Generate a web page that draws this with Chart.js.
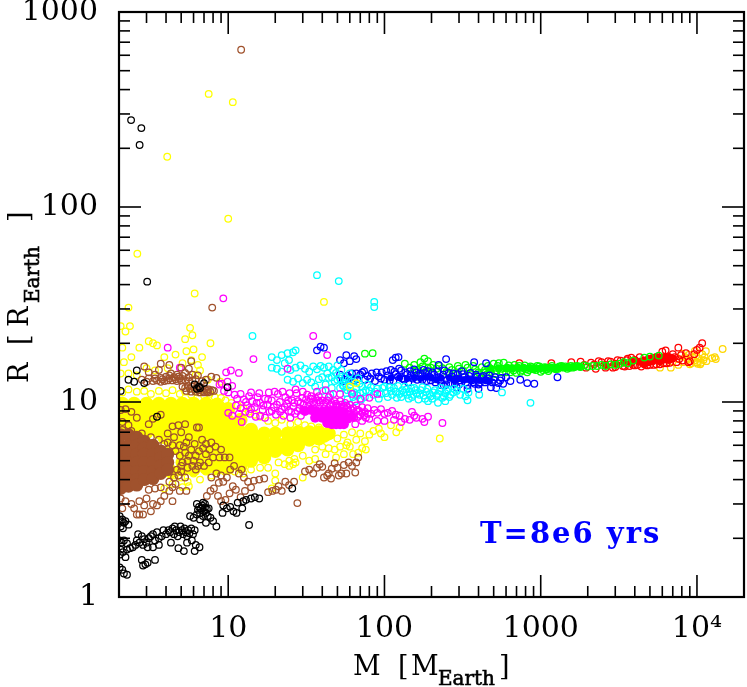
<!DOCTYPE html>
<html>
<head>
<meta charset="utf-8">
<title>R vs M</title>
<script src="https://cdn.jsdelivr.net/npm/chart.js@4/dist/chart.umd.js"></script>
<style>
body { margin: 0; background: #fff; }
canvas { display: block; }
</style>
</head>
<body>
<canvas id="scatterChart" width="747" height="687"></canvas>
<script>
// tick values and labels
const xMajorTicks = [10, 100, 1000, 10000];
const xTickLabels = ['10', '100', '1000', '10⁴'];
const xMinorTicks = [2,3,4,5,6,7,8,9,20,30,40,50,60,70,80,90,200,300,400,500,600,700,800,900,2000,3000,4000,5000,6000,7000,8000,9000];
const yMajorTicks = [1, 10, 100, 1000];
const yTickLabels = ['1', '10', '100', '1000'];
const yMinorTicks = [2,3,4,5,6,7,8,9,20,30,40,50,60,70,80,90,200,300,400,500,600,700,800,900];

// [M, R], one list per colour
const blackPoints = [[2.39,279],[2.78,254],[2.71,208],[3.03,41.4],[2.3,13],[2.6,14.5],[2.9,12.5],[2.5,12.7],[2.05,11.4],[6.1,12.3],[6.6,11.8],[7,12.5],[6.5,12],[6.3,11.7],[9.9,11.9],[3.5,8.4],[13.6,2.34],[25.7,3.6],
[2.02,2.6],[2.05,2.45],[2.1,2.5],[2.15,2.4],[2.2,2.45],[2.3,2.35],[2.05,2.3],[2.12,2.25],[2.02,1.95],[2.08,1.9],[2.15,1.95],[2.25,1.88],[2.05,1.75],[2.12,1.7],[2.25,1.75],[2.35,1.78],[2.45,1.8],[2.03,1.65],[2.2,1.6],[2.1,1.38],[2.15,1.32],[2.25,1.3],[2.02,1.42],[2.55,1.85],[2.6,1.95],[2.7,1.9],[2.8,2.05],[2.9,1.98],[3,1.9],[3.1,2],[2.65,2.1],[2.85,1.85],[3.05,1.8],[3.2,2.05],[3.3,2.1],[3.4,1.95],[3.5,2.15],[3.6,2],[3.75,2.05],[3.85,2.2],[3.3,1.8],[3.6,1.85],[2.85,1.45],[2.95,1.47],[3.05,1.5],[2.8,1.55],[3.4,1.55],
[4,2.1],[4.15,2.2],[4.25,2.15],[4.4,2.25],[4.5,2.1],[4.55,2.3],[4.65,2.2],[4.75,2.05],[4.85,2.15],[4.95,2.3],[5.05,2.2],[5.15,2.1],[5.25,2.25],[5.35,2.15],[5.45,2.05],[5.55,2.2],[5.65,2.12],[5.8,2.25],[5.95,2.1],[6.1,2.2],[4.3,1.9],[4.8,1.78],[5.2,1.72],[5.45,1.9],[5.85,1.95],[6.2,1.85],[6.55,1.8],[6.1,1.72],
[6.3,2.65],[6.4,2.8],[6.5,2.9],[6.6,2.7],[6.7,2.85],[6.8,2.95],[6.9,2.6],[7,2.75],[7.1,2.88],[7.2,2.7],[7.3,2.82],[7.4,2.6],[7.1,3],[6.9,3.05],[7.5,2.85],[6.3,3],[7.7,2.55],[6.6,2.5],[7.2,2.4],[8,2.45],[8.4,2.3],[6,2.55],[5.7,2.6],
[9.3,2.95],[9.8,2.85],[10.3,2.9],[10.8,2.75],[11.3,2.7],[12.3,2.85],[12.5,3.1],[13,3.15],[14,3.2],[14.8,3.25],[15.8,3.2],[11.5,3.05],[9.2,2.7]];

const brownPoints = [[12.1,640],[7.9,30.5],[2.9,15.2],[3.1,14.2],[3.4,13.8],[3.1,13.2],[3.4,13.2],[3.7,13.3],[4,13.5],[4.3,14],[4.5,13.4],[4.7,13.8],[4.9,13.2],[5.1,13.6],[5.3,14.1],[5.6,13.4],[5.9,13.8],[4.1,12.9],[4.4,12.9],[4.7,12.8],[5,12.9],[5.3,12.9],[5.6,12.8],[5.9,12.9],[3.7,12.7],[6.2,13.1],[6.4,13.7],[5.6,14.8],[5,15],[4.2,15.5],[3.6,14.6],[3.7,15.7],[5.8,16.2],[2.8,13],[3,12.7],[3.3,12.8],[3.5,12.9],[3.8,13.1],[4.2,13.2],[4.6,13.1],[4.8,13.5],[4.2,13.7],[3.9,12.8],
[5.1,12],[5.3,11.8],[5.5,12.1],[5.7,11.7],[5.9,12],[6.1,11.6],[6.3,11.9],[6.5,11.5],[6.7,11.8],[6.9,11.4],[7.1,11.7],[7.3,11.4],[7.5,11.6],[7.7,11.3],[7.9,11.5],[5.4,11.4],[5.8,11.3],[6.2,11.3],[6.6,11.2],[7,11.2],[7.4,11.2],[8.1,11.4],[6.8,12.8],[7.2,13],[7.8,13.5],[8.4,13.3],
[2.05,9.1],[2.2,9.2],[2.4,8.9],[2.6,8.3],[2.1,7.9],[2.3,7.6],[3.1,7.7],[3.3,8.2],[3.7,8.6],[4.4,7.5],[4.8,7.6],[5.3,7.7],[6.3,7.4],[6.5,7.4],[5,7],[4.1,6.9],[4.5,6.6],[5.6,6.6],[6.8,6.4],[5.4,6.2],[6.1,6.1],[7.2,6.1],[7.8,6.2],[6.9,5.8],[7.6,5.7],[8.3,5.9],[9,5.7],[7.2,5.4],[8,5.2],[8.8,5.2],[9.5,5.2],[10.2,5.2],[6.5,5.6],[5.2,5.9],[5.6,5.3],[6,5],[6.6,4.9],[5,4.7],[5.5,4.6],[6.2,4.5],[7,4.7],[7.5,4.9],[4.8,4.2],[5.3,4.1],[4.6,3.8],[4.9,3.5],[5.4,3.5],[3.9,3.3],[4.2,3.5],[4.4,3.1],[3.7,3.1],
[2.05,3.2],[2.2,3.1],[2.4,3],[2.7,3.1],[3,3.2],[3.3,3],[3.5,2.95],[2.9,2.95],[2.6,2.65],[2.7,2.65],[2.85,2.65],[2.1,2.85],[2.5,2.85],[3.2,2.75],
[7.3,3.3],[7.7,3.5],[8.1,3.6],[8.6,3.3],[9,3.1],[9.6,3.15],[10.2,3.4],[10.7,3.7],[11.2,3.55],[12,3.25],[12.8,3.5],[13.4,3.9],[14,3.65],[14.6,3.95],[8.7,3.85],[9.3,3.9],[9.8,4.1],[9,4.2],[8.4,4.3],[10.3,4.5],[10.9,4.7],[11.7,4.3],[12.2,4.5],[7.8,4.1],[12.6,4.1],[15.8,4],[17,4.05],[18,3.45],[19.2,3.5],[20.2,3.55],[21,3.7],[23.2,3.9],[24.5,3.75],[26.4,3.9],[27.7,3.03],[22,3.5],
[31,4.4],[33,4.5],[35,4.3],[37,4.6],[38.5,4.8],[40,4.65],[41,4.1],[43,4.2],[44,4.3],[45.5,4.05],[46,4.55],[48,4.85],[50,4.6],[51,4.2],[53,4.3],[55,4.75],[57,4.3],[59,4.9],[62,4.7],[66,4.9],[68,5.2],[65,4.35],
[4.6,5.6],[4.9,6],[4.9,5.3],[5.1,4.9],[5.3,5.5],[5.5,5],[5.8,5.7],[5.9,4.7],[6.2,5.3],[6.4,4.7],[4.7,4.5],[5,4.4],[4.5,4.1],[4.2,3.9],[4.4,3.65],[3.7,3.65],[3.4,3.6],[3.1,3.55],[4.1,6.2],[4.4,6],[3.9,6.1],[3.6,6.4],[3.2,6.6],[2.8,6.9],[2.4,7.1],[2.1,7.2]];
const brownCore = [[2.05,6.8],[2.05,6],[2.05,5.4],[2.05,4.9],[2.05,4.4],[2.05,4],[2.05,3.6],[2.3,6.8],[2.3,6],[2.3,5.4],[2.3,4.9],[2.3,4.4],[2.3,4],[2.3,3.7],[2.6,6.6],[2.6,6],[2.6,5.4],[2.6,4.9],[2.6,4.4],[2.6,4],[2.6,3.75],[2.9,6.3],[2.9,5.8],[2.9,5.4],[2.9,4.9],[2.9,4.4],[2.9,4],[3.3,6],[3.3,5.4],[3.3,4.9],[3.3,4.4],[3.3,4.05],[3.7,5.6],[3.7,5.2],[3.7,4.7],[3.7,4.3],[4.1,5.4],[4.1,4.9],[4.1,4.5]];

const yellowPoints = [[7.5,380],[10.7,345],[4.07,181],[10,87],[2.62,57.6],[6.1,36],[2.3,30.5],[41,32.6],[2.05,24.5],[2.2,23],[2.35,24.5],[2.1,19],[2.4,17],[3.1,20.5],[3.3,20],[3.5,19.5],[3.9,17],[2.7,19],[2.15,16],[2.05,14],[2.6,13.7],[4.6,17.5],[5.3,21],[5.7,24],[5.9,22],[6,18.6],[5.8,16.4],[6.4,15.5],[6.8,17],[7.7,20],[6.6,14.5],[5.4,18.2],[5.1,15.8],[3,14.9],[3.4,14.5],[2.3,14],[4.1,14.9],[6.2,13.8],[8.9,12.7],[7.4,13],[60,12],[66,12.5],
[2.1,11.2],[2.3,11.6],[2.6,11.3],[2.9,11.4],[3.2,11],[3.6,11.4],[4,11.1],[4.4,11.5],[4.9,11],[5.3,11.3],[5.8,10.9],[6.4,11.2],[7,10.8],[7.6,11],[8.2,10.6],[9,10.5],[9.6,10.2],[10.5,9.9],[11.5,9.6],[12.5,9.3],[13.5,8.9],[14.8,8.6],[16,8.4],[18,8],[20,7.8],[22,8.1],[25,7.7],[28,7.9],[31,7.6],[34,7.5],[38,7.4],
[50,6.5],[55,6.8],[58,6.2],[62,7],[66,6.4],[70,6.9],[75,6.3],[80,6.8],[85,7.1],[60,5.9],[52,5.9],[48,5.7],[44,5.8],[40,5.9],[36,5.7],[72,5.8],[68,5.5],[63,5.4],[55,5.4],[49,5.2],[76,5.7],[57,6],[110,7.6],[125,7.4],[95,6.9],[119,7],[100,6.6],[92,7.3],[226,6.5],[42,5.4],[36,5.1],[30,5.3],[33,5],[27,4.9],[24.6,5],[24.6,4.7],[21,4.9],[20,4.3],[26.5,5.1],
[4.5,4.2],[5,4.1],[5.5,3.9],[6,4.3],[6.6,4],[7.2,4.4],[7.8,4.2],[8.5,4.4],[9.5,4.4],[11,4.4],[12.5,4.3],[14,4.5],[16,4.6],[18,4.6],[23,4.8],[26,4.8],[5.1,3.66],[5.6,3.7],[3.9,3.6],[4.4,3.8],[30,4.1],[20,3.95],[19,3.6]];
const yellowCore = [[2.1,9.8],[2.1,9],[2.1,8],[2.1,7],[2.5,9.8],[2.5,9],[2.5,8],[2.5,7],[3,9.8],[3,9],[3,8],[3,7],[3.6,9.8],[3.6,9],[3.6,8],[3.6,7],[4.3,9.8],[4.3,9],[4.3,8],[4.3,7],[4.3,6.2],[4.3,4.4],[5.1,9.8],[5.1,9],[5.1,8],[5.1,7],[5.1,6.2],[5.1,5.5],[5.1,4.9],[5.1,4.5],[6,9.8],[6,9],[6,8],[6,7],[6,6.2],[6,5.5],[6,4.9],[6,4.5],[7.2,9.8],[7.2,9],[7.2,8],[7.2,7],[7.2,6.2],[7.2,5.5],[7.2,4.9],[7.2,4.6],[8.5,9.7],[8.5,9],[8.5,8],[8.5,7],[8.5,6.2],[8.5,5.5],[8.5,4.9],[8.5,4.6],[10,9.2],[10,8],[10,7],[10,6.2],[10,5.5],[10,4.9],[10,4.6],[12,8.1],[12,7],[12,6.2],[12,5.5],[12,4.9],[12,4.7],[14,7.2],[14,6.2],[14,5.5],[14,5],[17,6.9],[17,6.2],[17,5.6],[17,5.2],[20,6.9],[20,6.2],[20,5.6],[24,6.9],[24,6.3],[24,5.7],[28,7],[28,6.5],[28,6],[33,7],[33,6.4],[38,7],[38,6.5],[44,6.9],
[2.3,9.4],[2.8,9.4],[3.3,9.4],[3.9,9.4],[4.7,9.4],[5.5,9.4],[6.6,9.4],[7.8,9.4],[2.3,8.5],[2.8,8.5],[3.3,8.5],[3.9,8.5],[4.7,8.5],[5.5,8.5],[6.6,8.5],[7.8,8.5],[9.2,8.5],[2.3,7.5],[2.8,7.5],[3.3,7.5],[3.9,7.5],[4.7,7.5],[5.5,7.5],[6.6,7.5],[7.8,7.5],[9.2,7.5],[11,7.5],[3.9,6.6],[4.7,6.6],[5.5,6.6],[6.6,6.6],[7.8,6.6],[9.2,6.6],[11,6.6],[13,6.6],[15.5,6.6],[4.7,5.8],[5.5,5.8],[6.6,5.8],[7.8,5.8],[9.2,5.8],[11,5.8],[13,5.8],[15.5,5.8],[18.5,5.9],[22,5.9],[26,6.2],[30,6.7],[35,6.7],[41,6.7],[5.5,5.2],[6.6,5.2],[7.8,5.2],[9.2,5.2],[11,5.2],[13,5.2],[15.5,5.4]];

const magentaPoints = [[9.3,34],[4.1,19],[4.9,15],[14.5,16.6],[9.7,14.2],[10.4,14.5],[11.7,14.1],[8.8,12.3],[9.4,11.4],[10,11.2],[10.6,12.1],[9.9,12.7],[9.1,12.4],[35,21.8],[24,14.8],[43,17.4],
[11,10.9],[11.4,10.4],[12,11],[12.6,10.3],[13.2,9.6],[13.6,10.7],[14.2,10.1],[14.8,9.4],[15.4,10.6],[16,9.9],[16.6,9.1],[17.2,10.4],[17.8,9.7],[18.4,8.9],[19,10.2],[19.6,9.4],[20.2,8.6],[20.8,11],[21.4,10],[22,9.2],[22.6,8.5],[23.2,10.6],[23.8,9.8],[24.4,9],[25,8.3],[25.6,10.2],[26.2,9.5],[26.8,8.7],[27.4,11.1],[28,10.1],[28.6,9.3],[29.2,8.5],[29.8,10.5],[30.4,9.7],[31,9],[12,9.3],[11.2,9.6],[11.7,8.7],[12.9,8.9],[13.8,8.7],[15,8.4],[16,8.5],[17.2,8.3],[12.2,7.9],[10.6,8.5],[10,8.8],[14,11.2],[15.8,11.1],[18.2,11.2],[19.8,11.3],[22.3,11.3],[24.7,11.1],[27,11.6],[30,11.3],[32,10.9],[33,10],[34,10.7],[35,10],[36,10.5],[37,9.9],[38,10.7],[40,10.2],[42,10],[44,10.6],[46,9.9],[48,10.1],[50,9.6],[52,10.1],[54,9.5],[56,9.9],[58,9.4],[60,9.7],[63,9.3],[66,9.6],[69,9],[72,9.4],[75,8.9],[78,9.3],[82,8.7],[86,9.1],[90,8.8],[95,9.2],[100,8.7],[105,8.8],[112,9],[118,8.6],[125,8.5],[135,8.2],[145,8.1],[150,8.9],[155,8.5],[160,8.3],[175,8.2],[180,7.9],[190,8.4],[235,7.8],[47,11],[62,11],[70,10.4],[80,10.5],[90,11],[42,11.5],[37,11.3],[52,11],[65,7.7],[72,8],[80,8.2],[90,8],[100,8],[115,8.1],[128,7.9],
[13,10],[14,9.2],[15.2,9.9],[16.8,9.6],[18,10.3],[19,9],[20.5,9.7],[21.5,8.9],[23,9.4],[24.2,10.2],[25.3,8.9],[26.5,9.9],[27.8,9],[29,9.9],[30.2,9.1],[31.5,10.3],[32.5,9.5],[33.7,10.4],[35.5,9.8],[37.5,10.2],[39,9.9],[41,9.8],[43,10.2],[45,9.7],[47,9.6],[49,9.8],[51,9.4],[53,9.7],[55,9.4],[57,9.6],[59,9],[61,9.2],[64,8.8],[67,9.1],[70,8.6],[74,8.5],[78,8.7],[60,8.6],[64,8.3],[68,8.4],[72,8.8],[76,8.3]];
const magentaCore = [[31,9],[34,9.1],[37,8.9],[40,8.9],[43,9],[46,9],[49,8.9],[52,8.9],[55,8.8],[36,8.3],[40,8.3],[43,8.3],[46,8.3],[49,8.3],[52,8.3],[55,8.2],[58,8.2],[62,8.4],[43,7.8],[46,7.7],[49,7.7],[52,7.7],[55,7.7]];

const cyanPoints = [[37,44.7],[51,41.7],[86,32.6],[86,30.7],[14.3,21.8],[58,21.8],[860,9.9],[340,10.2],[220,9.9],[245,10.1],[404,10.9],[565,11.2],[330,10.7],[345,11.2],
[19,17],[20.5,16.4],[22,17.4],[24,17.8],[24.5,16.4],[26,18],[27,18.4],[19,15],[20.5,14.8],[22,14.3],[23,15.8],[25,14.6],[27,15],[29,15.4],[31,14.8],[33,14.3],[35,15.2],[37,14.7],[39,15.3],[41,15],[44,15.2],[47,14.6],[50,15.4],[53,14.6],[56,13.4],[60,14],[24,13],[26,12.7],[28,13.2],[30,12.5],[32,13],[34,12.6],[36,12],[38,13.1],[40,13.4],[42,12.3],[44,13.3],[46,11.8],[48,12.8],[50,13],[52,11.8],[54,12.2],[56,12.5],[58,11.5],[60,12],[62,12.7],[64,11.2],[66,11.8],[68,13.2],[70,11.1],[72,12],[75,10.6],[78,12.3],[80,11.4],[85,10.9],[90,11.7],[95,11],[100,12],[105,10.6],[110,11.4],[115,11.8],[120,10.5],[125,11],[130,11.5],[135,12],[140,10.9],[145,11.3],[150,10.6],[155,11.8],[160,11.1],[165,10.3],[170,11.5],[178,10.8],[185,11.3],[190,10.1],[198,10.7],[205,11.2],[215,10.8],[225,11.4],[235,10.5],[245,11.1],[255,11.6],[265,10.9],[275,11.2],[290,11.4],[305,10.9],[320,11.7],[40,11.4],[58,10.3],[65,10.1],[45,10.9],
[43,14],[46,13.4],[49,14.1],[52,13.2],[55,12],[57,11.1],[59,13],[61,11.4],[63,10.6],[67,10.8],[69,12.4],[71,10.3],[73,11.2],[76,11.5],[82,11.9],[87,11.3],[92,10.4],[97,11.8],[102,11.1],[108,11.9],[112,10.9],[118,11.3],[122,12.1],[128,10.6],[133,11.2],[138,11.6],[143,10.4],[148,11.8],[153,10.9],[158,11.5],[168,10.9],[175,11.9],[182,10.4],[188,11.7],[195,11],[202,10.4],[210,11.5],[220,11],[230,11.8],[240,10.7],[250,11.4],[260,10.6],[280,11.7]];

const bluePoints = [[52,16.4],[57,17.4],[60,16.2],[64,17.2],[66,16.6],[55,15.8],[113,16.4],[118,16.9],[123,17],[248,16.6],[222,15.5],[375,16],[447,15.8],[1280,13.4],[910,12.4],[820,12.5],[740,13],[39,19.2],[37,18.4],[41,19],[52,13.8],[54,12.8],[56,13],[58,13.6],[62,14],[64,12.9],[67,13.1],[70,13.8],[72,14.2],[75,13],[78,13.6],[83,14],[87,12.8],[92,13.5],[96,14.2],[100,13],[105,13.7],[110,14.6],[114,12.8],[118,13.9],[124,14.8],[130,13.2],[136,14.2],[142,12.6],[148,13.7],[155,14.7],[162,13],[170,14],[178,14.6],[186,12.8],[194,13.5],[203,14.2],[212,12.6],[222,13.4],[232,12.2],[242,14.5],[252,13],[264,12.5],[276,14],[288,13.2],[300,12.3],[312,14.4],[325,13.4],[340,12.2],[355,14.1],[370,12.6],[385,13.8],[400,12.3],[420,13.4],[440,12.6],[460,13.2],[480,11.9],[500,13],[520,11.8],[550,12.9],[575,12.4],[600,13.4],[640,12.8],[340,11.7],[400,11.7],[290,11.9],[240,12.1],
[60,13.3],[66,14],[74,14.4],[81,13.2],[89,14.2],[95,13.2],[103,14.4],[108,12.9],[116,14.3],[122,13.5],[128,14.5],[134,13],[140,13.9],[146,14.4],[152,13.2],[160,14.2],[166,13.6],[175,13],[182,14.1],[190,14.4],[198,12.9],[208,13.8],[218,14.3],[228,12.8],[238,13.8],[248,12.3],[258,14.1],[270,13.5],[282,12.4],[295,13.9],[306,12.9],[318,13.9],[332,12.6],[348,13.6],[362,12.9],[378,12.4],[392,13.5],[408,12.5],[430,13.6],[450,12.9],[470,13.7],[490,12.6],[510,13.4],[535,12.5],[560,13.3]];
const blueCore = [[110,13.3],[125,13.3],[140,13.2],[155,13.3],[170,13.2],[185,13.4],[200,13.3],[215,13],[230,13.3],[260,13.3],[280,12.9],[300,13.2],[320,13],[340,13.1],[360,13],[385,13],[410,12.9],[440,13],[470,12.8]];

const greenPoints = [[75,17.7],[84,17.8],[155,15.5],[170,16],[180,16.7],[190,16.2],[135,15.7],[205,15.5],[215,14.8],[235,14.9],[250,14.3],[270,14.6],[285,14],[300,14.8],[320,14.4],[340,15],[360,13.9],[380,14.7],[400,14.2],[420,15.1],[440,14.6],[460,15.3],[480,14.2],[500,15.7],[520,14.5],[540,15.8],[560,14.8],[580,15.9],[600,14.2],[625,15.4],[650,14.8],[680,15.5],[700,14.1],[730,15.3],[760,14.6],[790,15.4],[820,14.2],[860,15.2],[900,14.7],[950,15.3],[1000,14.3],[1060,15.1],[1120,14.4],[1180,15.3],[1250,14.7],[1320,15.2],[1400,15],[1480,14.8],[1560,15.3],[1650,15.1],[2000,15.2],[2150,15.3],[2300,15.3],[2450,15.5],[2600,15.3],[2800,15.6],[3000,15.5],[3200,15.7],[3400,16],[3600,15.8],[3900,16.3],[5000,17.1],[5700,17.3],[4600,16.9],[165,14.6],[190,14.9],
[145,15],[158,14.5],[175,15.2],[185,14.4],[198,15],[225,15.3],[260,15.1],[295,15.3],[330,15.5],[370,15.3],[410,13.9],[430,14.2],[450,13.8],[470,14.9],[510,13.9],[530,15.3],[570,14.2],[610,15],[640,14.2],[670,14.5],[710,15],[745,14.3],[775,15],[805,14.7],[840,14.6],[880,15.1],[930,14.6],[980,15.2],[1030,14.6],[1090,14.7],[1150,14.8],[1210,14.9],[1290,14.8],[1360,15.3],[1440,15.2],[1520,15],[1600,15],[1700,15.3],[1800,15.1],[1900,15.4]];
const greenCore = [[480,14.8],[540,14.9],[600,14.9],[660,14.9],[720,14.9],[780,14.9],[850,14.9],[920,14.9],[1000,14.9],[1080,15],[1170,15],[1270,15],[1380,15.1],[1500,15.1],[1630,15.2],[1770,15.2]];

const redPoints = [[730,15.8],[1170,15.8],[1570,16],[1800,16.1],[1950,15],[2100,15.9],[2250,14.8],[2450,16],[2600,15],[2800,16.1],[3000,15.1],[3250,16.3],[3450,15.2],[3600,16.7],[3800,16.9],[4000,15.4],[4300,17],[4600,15.6],[6000,18.1],[6300,18.4],[7600,19],[10800,20],[7900,17.4],[8500,17.8],[9000,16.2],[9600,17.6],[10400,19],[10000,18.5],[8800,16],[7200,17],[6800,16.7],[1900,15.5],[2200,15.6],[2350,16.2],[2700,16.2],[2900,15],[3100,16.4],[3350,15.3],[3550,16.4],[3700,15.3],[3900,15.5],[4150,15.5],[4400,15.2],[4800,15.4],[5000,15.5],[5300,15.5],[5500,15.6],[5800,15.6],[6100,15.8],[6400,15.8],[6700,15.9],[7000,17.6],[7400,16],[7700,16.6],[8100,16.3]];
const redCore = [[2600,15.5],[3000,15.7],[3400,15.9],[3800,15.9],[4000,16.4],[4300,16.1],[4600,16.3],[4600,15.7],[4900,16.6],[4900,16],[5200,16.8],[5200,16.2],[5500,16.5],[5500,17],[5800,16.8],[5800,16.2],[6200,17],[6200,16.5],[6600,17],[6600,16.4],[7000,16.7]];

const goldPoints = [[14600,18.7],[12500,16.8],[13200,16.6],[13000,17],[5800,15],[6800,15],[8100,16],[8400,17],[8700,16.5],[8900,17.5],[9200,15.8],[9400,16.9],[9600,16.3],[9900,17.3],[10100,15.7],[10300,16.7],[10600,15.9],[10800,17.6],[11000,16.4],[11200,17],[11400,18.2],[11500,16.2],[10000,16],[9000,15.6],[10500,15.6],[7600,15.5],[8000,17.7],[9700,18.3]];

function openSeries(points, color, order) {
  return {
    data: points.map(p => ({ x: p[0], y: p[1] })),
    pointStyle: 'circle', pointRadius: 3.3, pointBorderWidth: 1.25,
    pointBorderColor: color, pointBackgroundColor: 'transparent', order: order
  };
}
function coreSeries(points, color, order, size) {
  return {
    data: points.map(p => ({ x: p[0], y: p[1] })),
    pointStyle: 'circle', pointRadius: size, pointBorderWidth: 0,
    pointBorderColor: color, pointBackgroundColor: color, order: order
  };
}

const frameAndLabels = {
  id: 'frameAndLabels',
  afterDatasetsDraw(chart) {
    const c = chart.ctx, a = chart.chartArea;
    const xs = chart.scales.x, ys = chart.scales.y;
    c.save();
    c.strokeStyle = '#000';
    c.lineWidth = 1.6;
    function tick(x1, y1, x2, y2) { c.beginPath(); c.moveTo(x1, y1); c.lineTo(x2, y2); c.stroke(); }
    [[xMajorTicks, 22], [xMinorTicks, 11]].forEach(([vals, len]) => vals.forEach(v => {
      const px = xs.getPixelForValue(v);
      tick(px, a.bottom, px, a.bottom - len);
      tick(px, a.top, px, a.top + len);
    }));
    [[yMajorTicks, 22], [yMinorTicks, 11]].forEach(([vals, len]) => vals.forEach(v => {
      const py = ys.getPixelForValue(v);
      tick(a.left, py, a.left + len, py);
      tick(a.right, py, a.right - len, py);
    }));
    c.lineWidth = 2.2;
    c.strokeRect(a.left, a.top, a.right - a.left, a.bottom - a.top);

    // axis titles
    c.fillStyle = '#000';
    c.textAlign = 'left';
    c.textBaseline = 'alphabetic';
    c.font = '27px "DejaVu Serif"';
    c.fillText('M', 353, 675);
    c.fillText('[', 398, 675);
    c.fillText('M', 411, 675);
    c.fillText(']', 499, 675);
    c.font = '20px "DejaVu Serif"';
    c.lineWidth = 0.6;
    c.fillText('Earth', 438, 685);
    c.strokeText('Earth', 438, 685);

    c.translate(28, 0);
    c.rotate(-Math.PI / 2);
    c.font = '27px "DejaVu Serif"';
    c.fillText('R', -383, 0);
    c.fillText('[', -345, 0);
    c.fillText('R', -327, 0);
    c.fillText(']', -222, 0);
    c.font = '20px "DejaVu Serif"';
    c.fillText('Earth', -303, 11);
    c.strokeText('Earth', -303, 11);
    c.setTransform(1, 0, 0, 1, 0, 0);

    c.fillStyle = '#0000ff';
    c.font = 'bold 29px "DejaVu Serif"';
    c.letterSpacing = '2px';
    c.fillText('T=8e6 yrs', 480, 543);
    c.restore();
  }
};

function noPadding(s) {
  s.paddingTop = 0; s.paddingBottom = 0; s.paddingLeft = 0; s.paddingRight = 0;
}

new Chart(document.getElementById('scatterChart'), {
  type: 'scatter',
  data: {
    datasets: [
      openSeries(blackPoints, '#000000', 1),
      openSeries(brownPoints, '#a0522d', 2),
      coreSeries(brownCore, '#a0522d', 3, 6.5),
      openSeries(magentaPoints, '#ff00ff', 4),
      coreSeries(magentaCore, '#ff00ff', 5, 5),
      openSeries(yellowPoints, '#ffff00', 6),
      coreSeries(yellowCore, '#ffff00', 7, 7),
      openSeries(cyanPoints, '#00ffff', 8),
      openSeries(bluePoints, '#0000ff', 9),
      coreSeries(blueCore, '#0000ff', 10, 3.5),
      openSeries(greenPoints, '#00ff00', 11),
      coreSeries(greenCore, '#00ff00', 12, 4),
      openSeries(redPoints, '#ff0000', 13),
      coreSeries(redCore, '#ff0000', 14, 4),
      openSeries(goldPoints, '#ffd700', 15)
    ]
  },
  options: {
    responsive: false,
    animation: false,
    layout: { autoPadding: false, padding: { top: 12, right: 3, left: 0, bottom: 0 } },
    plugins: { legend: { display: false }, tooltip: { enabled: false } },
    scales: {
      x: {
        type: 'logarithmic', min: 2, max: 20000,
        grid: { display: false, drawTicks: false }, border: { display: false },
        afterBuildTicks: s => { s.ticks = xMajorTicks.map(v => ({ value: v })); },
        afterFit: s => { s.height = 90; noPadding(s); },
        ticks: {
          autoSkip: false, maxRotation: 0, padding: 14, color: '#000',
          font: { family: '"DejaVu Serif"', size: 30 },
          callback: (v, i) => xTickLabels[i]
        }
      },
      y: {
        type: 'logarithmic', min: 1, max: 1000,
        grid: { display: false, drawTicks: false }, border: { display: false },
        afterBuildTicks: s => { s.ticks = yMajorTicks.map(v => ({ value: v })); },
        afterFit: s => { s.width = 119; noPadding(s); },
        ticks: {
          autoSkip: false, padding: 21, color: '#000',
          font: { family: '"DejaVu Serif"', size: 30 },
          callback: (v, i) => yTickLabels[i]
        }
      }
    }
  },
  plugins: [frameAndLabels]
});
</script>
</body>
</html>
